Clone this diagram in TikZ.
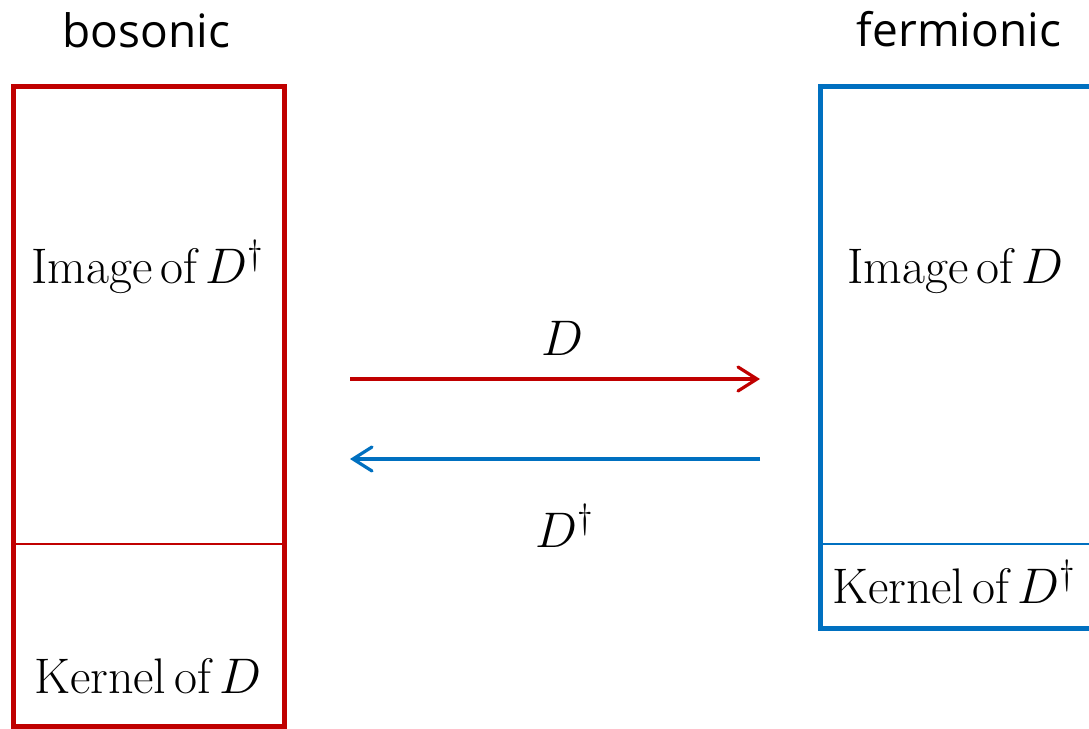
\RequirePackage{fix-cm}
\documentclass[tikz,border=0pt]{standalone}
\usepackage{fontspec}
\newfontfamily\labelsans{Open Sans}
\usetikzlibrary{arrows.meta}
\definecolor{bred}{HTML}{C00000}
\definecolor{fblue}{HTML}{0070C0}
\tikzset{
  heading/.style={font=\labelsans\fontsize{46}{50}\selectfont, anchor=base, inner sep=0pt},
  mtext/.style={font=\fontsize{50}{55}\selectfont, anchor=base, inner sep=0pt},
  space/.style={draw, line width=5pt, minimum width=#1, inner sep=0pt},
  divider/.style={line width=1.5pt},
  maparrow/.style={line width=3.2pt, -{Straight Barb[length=19pt,width=24pt,line cap=round]}}
}
\begin{document}
\begin{tikzpicture}[x=1pt,y=-1pt]
\useasboundingbox (0,0) rectangle (1089,728);
% boxes
\node[space=271pt, minimum height=640pt, bred] (bos) at (148.5,406) {};
\node[space=275pt, minimum height=542pt, fblue] (fer) at (957.5,357) {};
% dividers
\coordinate (bl) at (13,544); \coordinate (br) at (284,544);
\coordinate (fl) at (820,544); \coordinate (fr) at (1095,544);
\draw[divider, bred] (bl) -- (br);
\draw[divider, fblue] (fl) -- (fr);
% headings
\node[heading] (hb) at (146.5,47) {bosonic};
\node[heading] (hf) at (959,46) {fermionic};
% box texts
\node[mtext] (imb) at (147.5,283) {$\mathrm{Image\,of}\,D^{\dagger}$};
\node[mtext] (kb) at (148,693) {$\mathrm{Kernel\,of}\,D$};
\node[mtext] (imf) at (955.5,283) {$\mathrm{Image\,of}\,D$};
\node[mtext] (kf) at (954,603) {$\mathrm{Kernel\,of}\,D^{\dagger}$};
% arrows
\coordinate (r1) at (350,379); \coordinate (r2) at (760,379);
\coordinate (b1) at (760,459); \coordinate (b2) at (350,459);
\draw[maparrow, bred] (r1) -- (r2);
\draw[maparrow, fblue] (b1) -- (b2);
\node[mtext] (ld) at (562,355) {$D$};
\node[mtext] (ldd) at (565,547) {$D^{\dagger}$};
\end{tikzpicture}
\end{document}
